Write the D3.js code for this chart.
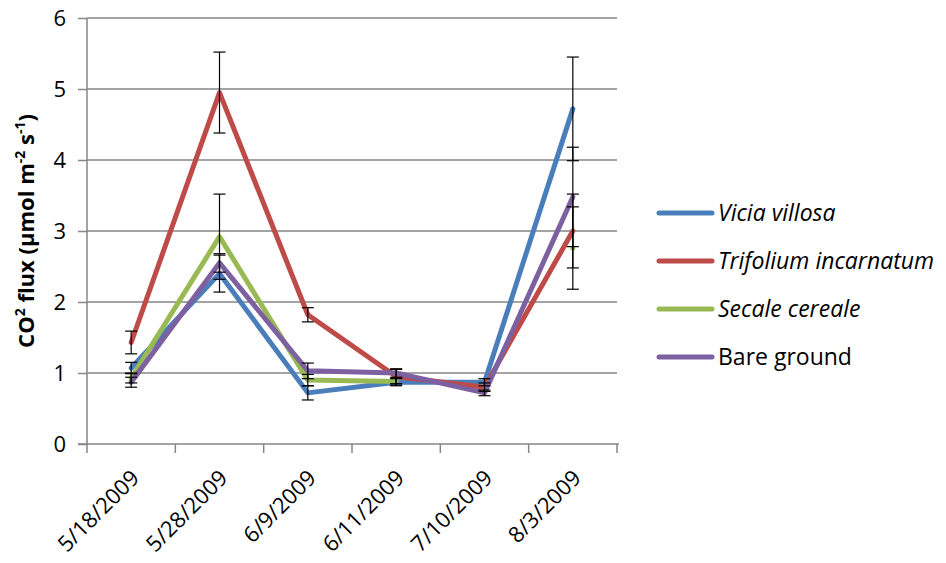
<!DOCTYPE html>
<html>
<head>
  <meta charset="utf-8">
  <script src="https://d3js.org/d3.v7.min.js"></script>
  <style>
    body { margin: 0; background: #fff; }
    text { font-family: "Open Sans", "Noto Sans", sans-serif; fill: #000; }
    .grid line { stroke: #868686; stroke-width: 1.5; }
  </style>
</head>
<body>
<div id="chart"></div>
<script>
  const dates = ["5/18/2009", "5/28/2009", "6/9/2009", "6/11/2009", "7/10/2009", "8/3/2009"];
  const yTicks = [0, 1, 2, 3, 4, 5, 6];

  const seriesNames = ["Vicia villosa", "Trifolium incarnatum", "Secale cereale", "Bare ground"];
  const italicNames = [true, true, true, false];
  const colors = ["#4A7EBB", "#BE4B48", "#98B954", "#7D60A0"];

  const vicia = [1.07, 2.40, 0.72, 0.87, 0.87, 4.72];
  const viciaErr = [0.08, 0.26, 0.10, 0.05, 0.05, 0.73];
  const trifolium = [1.43, 4.95, 1.82, 0.95, 0.80, 3.00];
  const trifoliumErr = [0.16, 0.57, 0.10, 0.10, 0.06, 0.52];
  const secale = [0.93, 2.92, 0.90, 0.88, null, 2.76];
  const secaleErr = [0.07, 0.60, 0.08, 0.05, null, 0.58];
  const bare = [0.87, 2.55, 1.03, 1.00, 0.72, 3.48];
  const bareErr = [0.07, 0.13, 0.11, 0.06, 0.04, 0.70];

  const values = [vicia, trifolium, secale, bare];
  const errors = [viciaErr, trifoliumErr, secaleErr, bareErr];

  const width = 946, height = 563;
  const margin = { left: 87, right: 329, top: 18, bottom: 119 };

  const svg = d3.select("#chart").append("svg")
    .attr("width", width)
    .attr("height", height);

  const x = d3.scaleBand().domain(dates).range([margin.left, width - margin.right]);
  const y = d3.scaleLinear().domain([0, 6]).range([height - margin.bottom, margin.top]);

  // gridlines
  svg.append("g").attr("class", "grid")
    .selectAll("line")
    .data(yTicks.filter(d => d > 0))
    .enter().append("line")
    .attr("x1", margin.left).attr("x2", width - margin.right)
    .attr("y1", d => y(d)).attr("y2", d => y(d));

  // y axis
  const yAxis = svg.append("g")
    .attr("transform", `translate(${margin.left},0)`)
    .call(d3.axisLeft(y).tickValues(yTicks).tickFormat(d3.format("d")).tickSize(9).tickPadding(12));
  yAxis.selectAll("line, path").attr("stroke", "#868686").attr("stroke-width", 1.5);
  yAxis.select(".domain").attr("d", `M0,${y(6)}V${y(0)}`);
  yAxis.selectAll("text").style("font-size", "22px").attr("fill", "#000");

  // x axis
  const xAxis = svg.append("g")
    .attr("transform", `translate(0,${y(0)})`);
  xAxis.append("line")
    .attr("x1", margin.left - 9).attr("x2", width - margin.right + 2)
    .attr("stroke", "#868686").attr("stroke-width", 1.5);
  const boundaries = dates.map(d => x(d)).concat([x.range()[1]]);
  xAxis.selectAll(".tk").data(boundaries).enter().append("line")
    .attr("x1", d => d).attr("x2", d => d)
    .attr("y1", 0).attr("y2", 9)
    .attr("stroke", "#868686").attr("stroke-width", 1.5);
  xAxis.selectAll(".lbl").data(dates).enter().append("text")
    .attr("transform", d => `translate(${x(d) + x.bandwidth() / 2 + 4},${30}) rotate(-45)`)
    .attr("text-anchor", "end")
    .attr("dy", "0.35em")
    .style("font-size", "22px")
    .text(d => d);

  // y axis title
  const title = svg.append("text")
    .attr("transform", `translate(34,${(y(0) + y(6)) / 2}) rotate(-90)`)
    .attr("text-anchor", "middle")
    .style("font-size", "22px")
    .style("font-weight", "bold");
  title.append("tspan").text("CO");
  title.append("tspan").attr("baseline-shift", "super").style("font-size", "14px").text("2");
  title.append("tspan").text(" flux (µmol m");
  title.append("tspan").attr("baseline-shift", "super").style("font-size", "14px").text("-2");
  title.append("tspan").text(" s");
  title.append("tspan").attr("baseline-shift", "super").style("font-size", "14px").text("-1");
  title.append("tspan").text(")");

  const cx = d => x(d) + x.bandwidth() / 2;

  // lines
  const line = d3.line()
    .defined(d => d.v !== null)
    .x(d => cx(d.date))
    .y(d => y(d.v));

  values.forEach((vals, i) => {
    const pts = dates.map((d, j) => ({ date: d, v: vals[j] }));
    svg.append("path")
      .datum(pts)
      .attr("fill", "none")
      .attr("stroke", colors[i])
      .attr("stroke-width", 5)
      .attr("stroke-linejoin", "round")
      .attr("stroke-linecap", "round")
      .attr("d", line);
  });

  // error bars
  const eb = svg.append("g").attr("stroke", "#000").attr("stroke-width", 1.2);
  values.forEach((vals, i) => {
    dates.forEach((d, j) => {
      if (vals[j] === null) return;
      const e = errors[i][j];
      const xc = cx(d);
      eb.append("line").attr("x1", xc).attr("x2", xc)
        .attr("y1", y(vals[j] + e)).attr("y2", y(vals[j] - e));
      [vals[j] + e, vals[j] - e].forEach(v => {
        eb.append("line").attr("x1", xc - 6).attr("x2", xc + 6)
          .attr("y1", y(v)).attr("y2", y(v));
      });
    });
  });

  // legend
  const legend = svg.append("g");
  seriesNames.forEach((name, i) => {
    const ly = 213 + i * 48;
    legend.append("line")
      .attr("x1", 659).attr("x2", 712)
      .attr("y1", ly).attr("y2", ly)
      .attr("stroke", colors[i]).attr("stroke-width", 5)
      .attr("stroke-linecap", "round");
    legend.append("text")
      .attr("x", 718).attr("y", ly)
      .attr("dy", "0.35em")
      .style("font-size", "23px")
      .style("font-style", italicNames[i] ? "italic" : "normal")
      .text(name);
  });
</script>
</body>
</html>
